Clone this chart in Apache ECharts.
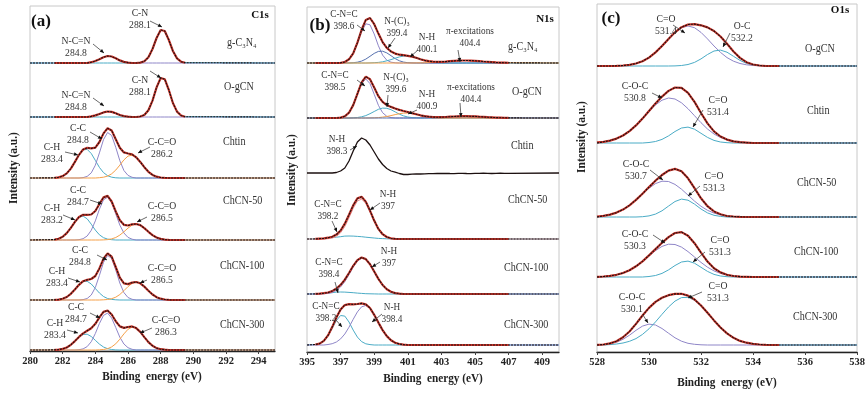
<!DOCTYPE html>
<html>
<head>
<meta charset="utf-8">
<script src="https://cdn.jsdelivr.net/npm/echarts@6/dist/echarts.min.js"></script>
<style>
  html, body { margin: 0; padding: 0; background: #fff; }
  #chart { width: 868px; height: 396px; }
</style>
</head>
<body>
<div id="chart"></div>
<script>
// binding energy sampling (eV) for each panel
const gridC = [281.5,281.75,282,282.25,282.5,282.75,283,283.25,283.5,283.75,284,284.25,284.5,284.75,285,285.25,285.5,285.75,286,286.25,286.5,286.75,287,287.25,287.5,287.75,288,288.25,288.5,288.75,289,289.25,289.5];
const gridN = [395.5,395.75,396,396.25,396.5,396.75,397,397.25,397.5,397.75,398,398.25,398.5,398.75,399,399.25,399.5,399.75,400,400.25,400.5,400.75,401,401.25,401.5,401.75,402,402.25,402.5,402.75,403,403.25,403.5,403.75,404,404.25,404.5,404.75,405,405.25,405.5,405.75,406,406.25,406.5,406.75,407];
const gridO = [528,528.25,528.5,528.75,529,529.25,529.5,529.75,530,530.25,530.5,530.75,531,531.25,531.5,531.75,532,532.25,532.5,532.75,533,533.25,533.5,533.75,534,534.25,534.5,534.75,535];

// vertical offset of each stacked spectrum (a.u.)
const offC1s = [288, 234, 173, 111, 51, 1];
const offN1s = [289, 234, 179, 113, 58, 7];
const offO1s = [286, 209, 135, 75, 7];

const samplesC1s = ['g-C₃N₄', 'O-gCN', 'Chtin', 'ChCN-50', 'ChCN-100', 'ChCN-300'];
const samplesN1s = ['g-C₃N₄', 'O-gCN', 'Chtin', 'ChCN-50', 'ChCN-100', 'ChCN-300'];
const samplesO1s = ['O-gCN', 'Chtin', 'ChCN-50', 'ChCN-100', 'ChCN-300'];

// ---- C1s fitted components ----
const aG_NCN = [0,0,0,0,0,0,0,0,0,0.8,2,3.8,5.8,7,6.5,4.7,2.6,1.1,0.4,0,0,0,0,0,0,0,0,0,0,0,0,0,0];
const aG_CN  = [0,0,0,0,0,0,0,0,0,0,0,0,0,0,0,0,0,0,0,0,0,0.4,1.7,5.7,14,25,33,32,23,12,4.6,1.3,0.3];
const aO_NCN = [0,0,0,0,0,0,0,0,0,0.6,1.6,3,4.6,5.5,5.1,3.7,2,0.9,0.3,0,0,0,0,0,0,0,0,0,0,0,0,0,0];
const aO_CN  = [0,0,0,0,0,0,0,0,0,0,0,0,0,0,0,0,0,0,0,0,0,0.5,2,6.7,16.4,29.6,39,37.8,27,14,5.4,1.5,0.3];
const aCh_CH  = [0.2,0.7,1.9,4.6,9.4,16.1,23.2,28.1,28.6,24.5,17.6,10.6,5.4,2.3,0.8,0.2,0,0,0,0,0,0,0,0,0,0,0,0,0,0,0,0,0];
const aCh_CC  = [0,0,0,0,0,0,0,0.4,1.6,5.1,12.8,25.1,38.4,45.5,42.5,30.7,17.3,7.5,2.6,0.7,0,0,0,0,0,0,0,0,0,0,0,0,0];
const aCh_CCO = [0,0,0,0,0,0,0,0,0,0,0,0.3,0.8,1.9,4.2,7.9,12.9,18.1,21.9,22.9,20.7,16.1,10.8,6.2,3.1,1.3,0.5,0.2,0,0,0,0,0];
const a50_CH  = [0.4,1.3,3.2,6.9,12.1,18.1,22.7,23.9,21.2,15.8,9.9,5.2,2.3,0.9,0.3,0,0,0,0,0,0,0,0,0,0,0,0,0,0,0,0,0,0];
const a50_CC  = [0,0,0,0,0,0,0.3,1.3,4,9.7,19.1,30.8,40.2,42.8,37.1,26.1,14.9,7,2.6,0.8,0,0,0,0,0,0,0,0,0,0,0,0,0];
const a50_CCO = [0,0,0,0,0,0,0,0,0,0,0,0,0.1,0.4,1.1,2.5,4.9,8.2,11.9,14.9,16,14.9,11.9,8.2,4.9,2.5,1.1,0.4,0.1,0,0,0,0];
const a100_CH  = [0.1,0.4,1.3,3,6.2,10.6,15.2,18.4,18.7,16,11.5,7,3.5,1.5,0.6,0.2,0,0,0,0,0,0,0,0,0,0,0,0,0,0,0,0,0];
const a100_CC  = [0,0,0,0,0,0,0,0.4,1.5,5,12.5,24.6,37.6,44.6,41.5,30,16.9,7.4,2.5,0.7,0,0,0,0,0,0,0,0,0,0,0,0,0];
const a100_CCO = [0,0,0,0,0,0,0,0,0,0,0,0,0.2,0.5,1.3,2.8,5.5,9.3,13.4,16.7,18,16.7,13.4,9.3,5.5,2.8,1.3,0.5,0.2,0,0,0,0];
const a300_CH  = [0.1,0.4,1.1,2.5,5.2,8.9,12.8,15.5,15.8,13.5,9.7,5.9,3,1.3,0.5,0.1,0,0,0,0,0,0,0,0,0,0,0,0,0,0,0,0,0];
const a300_CC  = [0,0,0,0,0,0,0.3,1.1,3.4,8.3,16.5,26.5,34.6,36.9,31.9,22.5,12.8,6,2.3,0.7,0,0,0,0,0,0,0,0,0,0,0,0,0];
const a300_CCO = [0,0,0,0,0,0,0,0,0,0,0,0.2,0.5,1.3,3.1,6.2,10.8,16.1,20.7,22.9,21.9,18.1,12.9,7.9,4.2,1.9,0.8,0.3,0,0,0,0,0];

// ---- N1s fitted components ----
const bG_CNC = [0,0,0,0,0,0,0.2,1,3.6,9.4,19.5,31.3,39.2,38.2,29,17.2,7.9,2.8,0.8,0.2,0,0,0,0,0,0,0,0,0,0,0,0,0,0,0,0,0,0,0,0,0,0,0,0,0,0,0];
const bG_NC3 = [0,0,0,0,0,0,0,0,0.1,0.3,0.8,1.9,3.9,6.7,9.6,11.6,11.8,10.1,7.3,4.4,2.2,0.9,0.3,0.1,0,0,0,0,0,0,0,0,0,0,0,0,0,0,0,0,0,0,0,0,0,0,0];
const bG_NH  = [0,0,0,0,0,0,0,0,0,0,0,0,0,0.1,0.3,0.6,1.2,2.2,3.4,4.8,6.1,6.9,6.9,6.3,5.1,3.7,2.4,1.4,0.7,0.3,0.1,0,0,0,0,0,0,0,0,0,0,0,0,0,0,0,0];
const bG_PI  = [0,0,0,0,0,0,0,0,0,0,0,0,0,0,0,0,0,0,0,0,0,0,0,0,0.1,0.1,0.2,0.4,0.6,0.8,1.1,1.4,1.8,2.1,2.3,2.5,2.5,2.4,2.2,1.9,1.5,1.2,0.9,0.6,0.4,0.3,0.2];
const bO_CNC = [0,0,0,0,0,0,0.4,1.7,5.3,12.7,23.7,34.4,39,34.4,23.7,12.7,5.3,1.7,0.4,0,0,0,0,0,0,0,0,0,0,0,0,0,0,0,0,0,0,0,0,0,0,0,0,0,0,0,0];
const bO_NC3 = [0,0,0,0,0,0,0,0,0,0.2,0.5,1.2,2.4,4.3,6.5,8.7,9.9,9.7,8.3,6.1,3.8,2.1,1,0.4,0.1,0,0,0,0,0,0,0,0,0,0,0,0,0,0,0,0,0,0,0,0,0,0];
const bO_NH  = [0,0,0,0,0,0,0,0,0,0,0,0,0,0.1,0.2,0.4,0.9,1.5,2.4,3.4,4.3,4.9,5,4.5,3.6,2.6,1.7,1,0.5,0.2,0.1,0,0,0,0,0,0,0,0,0,0,0,0,0,0,0,0];
const bO_PI  = [0,0,0,0,0,0,0,0,0,0,0,0,0,0,0,0,0,0,0,0,0,0,0,0,0.1,0.1,0.2,0.3,0.4,0.6,0.8,1,1.3,1.5,1.7,1.8,1.8,1.7,1.6,1.3,1.1,0.8,0.6,0.4,0.3,0.2,0.1];
const bCh_raw = [0,0,0,0,0,0.5,2,5,12,22,31,35,33,28,21,14,8.5,4.5,2,0.8,-0.5,-1.5,-1.5,-1.2,-1,-1,-0.8,-0.6,-0.6,-0.5,-0.5,-0.3,-0.5,-0.6,-0.4,-0.3,-0.5,-0.6,-0.4,-0.3,-0.2,-0.4,-0.5,-0.3,-0.2,-0.3,-0.4];
const b50_NH  = [0,0,0,0.3,0.9,2.6,6.2,12.4,21.2,30.7,38,39.9,35.6,27,17.4,9.5,4.4,1.8,0.6,0.2,0,0,0,0,0,0,0,0,0,0,0,0,0,0,0,0,0,0,0,0,0,0,0,0,0,0,0];
const b50_CNC = [0.1,0.4,0.6,1,1.4,1.8,2.3,2.9,3,2.9,2.6,2.3,1.8,1.4,1,0.6,0.4,0.2,0.1,0,0,0,0,0,0,0,0,0,0,0,0,0,0,0,0,0,0,0,0,0,0,0,0,0,0,0,0];
const b100_NH  = [0,0,0.2,0.6,1.6,3.6,7.1,12.4,19.4,26.9,33,35.9,34.6,29.6,22.4,15.1,9,4.8,2.2,0.9,0.3,0,0,0,0,0,0,0,0,0,0,0,0,0,0,0,0,0,0,0,0,0,0,0,0,0,0];
const b100_CNC = [0.1,0.3,0.6,0.9,1.3,1.9,2,1.9,1.6,1.3,0.9,0.6,0.3,0.2,0.1,0,0,0,0,0,0,0,0,0,0,0,0,0,0,0,0,0,0,0,0,0,0,0,0,0,0,0,0,0,0,0,0];
const b300_CNC = [0.5,1.4,4.1,9.1,16.6,24.5,29.5,28.9,23,14.9,7.9,3.4,1.2,0.4,0,0,0,0,0,0,0,0,0,0,0,0,0,0,0,0,0,0,0,0,0,0,0,0,0,0,0,0,0,0,0,0,0];
const b300_NH  = [0,0,0,0.5,1.3,3,6.1,11,17.8,25.7,33.1,38.2,39.5,36.6,30.2,22.4,14.9,8.9,4.7,2.2,1,0.4,0,0,0,0,0,0,0,0,0,0,0,0,0,0,0,0,0,0,0,0,0,0,0,0,0];

// ---- O1s fitted components ----
const cO_CO  = [0,0,0,0.2,0.5,1.2,2.5,4.8,8.4,13.6,20,27.1,33.6,38.3,40,38.3,33.6,27.1,20,13.6,8.4,4.8,2.5,1.2,0.5,0.2,0,0,0];
const cO_OC  = [0,0,0,0,0,0,0,0,0,0,0,0,0.1,0.5,1.5,3.6,7.1,11.5,15,15.9,13.8,9.7,5.6,2.6,1,0.3,0,0,0];
const cCh_COC = [0.6,1.2,2.4,4.4,7.5,11.9,17.6,24.4,31.5,38.1,42.8,45,44,40.2,34.3,27.3,20.3,14,9,5.5,3.1,1.6,0.8,0.4,0,0,0,0,0];
const cCh_CO  = [0,0,0,0,0,0,0,0,0.5,1.5,3.6,7.1,11.5,15,15.9,13.8,9.7,5.6,2.6,1,0.3,0,0,0,0,0,0,0,0];
const c50_COC = [0.5,1.2,2.4,4.4,7.4,11.7,17.1,23,28.8,33.4,35.8,35.5,32.6,27.8,21.9,15.9,10.7,6.7,3.9,2.1,1,0.5,0.2,0,0,0,0,0,0];
const c50_CO  = [0,0,0,0,0,0,0,0.3,1.1,2.9,6.2,10.9,15.5,17.9,16.8,12.9,8,4.1,1.7,0.6,0,0,0,0,0,0,0,0,0];
const c100_COC = [0.2,0.5,1.1,2.2,4,6.8,10.7,15.6,21.1,26.4,30.6,32.8,32.5,29.9,25.4,20,14.6,9.8,6.1,3.6,1.9,1,0.4,0.2,0,0,0,0,0];
const c100_CO  = [0,0,0,0,0,0,0,0,0.5,1.5,3.6,7.1,11.5,15,15.9,13.8,9.7,5.6,2.6,1,0.3,0,0,0,0,0,0,0,0];
const c300_COC = [0.1,0.5,1.2,2.8,5.7,9.8,14.7,18.9,20.9,20,16.5,11.8,7.2,3.8,1.7,0.7,0.2,0,0,0,0,0,0,0,0,0,0,0,0];
const c300_CO  = [0,0,0.4,1,2,3.7,6.4,10.6,16.2,23.1,30.7,38,43.9,47.4,47.7,44.8,39.3,32.2,24.6,17.5,11.6,7.2,4.1,2.3,1.2,0.5,0.2,0,0];

const CYAN = '#4bacc6', PURPLE = '#8f86c8', ORANGE = '#f5a048', BLUE = '#5670ae', PINK = '#e39a9a';
const FIT = '#c8352b', RAW = '#1c1010';
const serif = 'Liberation Serif';

// panel setup
const panels = [
  { range: [280, 295], energies: gridC, box: { left: 30, top: 6, width: 245, height: 345 },
    spectra: [
      { off: offC1s[0], comps: [[aG_NCN, PURPLE], [aG_CN, CYAN]] },
      { off: offC1s[1], comps: [[aO_NCN, PURPLE], [aO_CN, CYAN]] },
      { off: offC1s[2], comps: [[aCh_CH, CYAN], [aCh_CC, PURPLE], [aCh_CCO, ORANGE]] },
      { off: offC1s[3], comps: [[a50_CH, CYAN], [a50_CC, PURPLE], [a50_CCO, ORANGE]] },
      { off: offC1s[4], comps: [[a100_CH, CYAN], [a100_CC, PURPLE], [a100_CCO, ORANGE]] },
      { off: offC1s[5], comps: [[a300_CH, CYAN], [a300_CC, PURPLE], [a300_CCO, ORANGE]] }
    ] },
  { range: [395, 410], energies: gridN, box: { left: 307, top: 7, width: 252, height: 345 },
    spectra: [
      { off: offN1s[0], comps: [[bG_CNC, PURPLE], [bG_NC3, BLUE], [bG_NH, CYAN], [bG_PI, ORANGE]] },
      { off: offN1s[1], comps: [[bO_CNC, PURPLE], [bO_NC3, CYAN], [bO_NH, ORANGE], [bO_PI, BLUE]] },
      { off: offN1s[2], comps: [], raw: bCh_raw },
      { off: offN1s[3], comps: [[b50_CNC, CYAN], [b50_NH, PINK]] },
      { off: offN1s[4], comps: [[b100_CNC, CYAN], [b100_NH, PURPLE]] },
      { off: offN1s[5], comps: [[b300_CNC, CYAN], [b300_NH, PURPLE]] }
    ] },
  { range: [528, 538], energies: gridO, box: { left: 597, top: 4, width: 260, height: 348 },
    spectra: [
      { off: offO1s[0], comps: [[cO_CO, PURPLE], [cO_OC, CYAN]] },
      { off: offO1s[1], comps: [[cCh_COC, PURPLE], [cCh_CO, CYAN]] },
      { off: offO1s[2], comps: [[c50_COC, PURPLE], [c50_CO, CYAN]] },
      { off: offO1s[3], comps: [[c100_COC, PURPLE], [c100_CO, CYAN]] },
      { off: offO1s[4], comps: [[c300_COC, PURPLE], [c300_CO, CYAN]] }
    ] }
];

// annotation texts with leader arrows: [text, cx, cy, x1, y1, x2, y2] (pixels)
const notesC1s = [
  ['C-N\n288.1', 140, 19, 150, 21, 162, 27],
  ['N-C=N\n284.8', 76, 47, 93, 44, 104, 53],
  ['C-N\n288.1', 140, 86, 150, 71, 161, 78],
  ['N-C=N\n284.8', 76, 101, 93, 98, 104, 106],
  ['C-C\n284.8', 78, 134, 90, 132, 102, 139],
  ['C-H\n283.4', 52, 153, 65, 152, 78, 155],
  ['C-C=O\n286.2', 162, 148, 150, 147, 138, 153],
  ['C-C\n284.7', 78, 196, 90, 200, 102, 204],
  ['C-H\n283.2', 52, 214, 63, 215, 75, 220],
  ['C-C=O\n286.5', 162, 212, 147, 217, 137, 222],
  ['C-C\n284.8', 80, 256, 97, 255, 107, 260],
  ['C-H\n283.4', 57, 277, 68, 278, 80, 282],
  ['C-C=O\n286.5', 162, 274, 147, 280, 140, 283],
  ['C-C\n284.7', 76, 313, 90, 313, 100, 318],
  ['C-H\n283.4', 55, 329, 67, 330, 78, 333],
  ['C-C=O\n286.3', 166, 326, 152, 328, 140, 333]
];
const notesN1s = [
  ['C-N=C\n398.6', 344, 20, 357, 25, 365, 31],
  ['N-(C)₃\n399.4', 397, 27, 395, 38, 388, 48],
  ['N-H\n400.1', 427, 43, 418, 50, 410, 57],
  ['π-excitations\n404.4', 470, 37, 458, 50, 460, 62],
  ['C-N=C\n398.5', 335, 81, 357, 80, 365, 86],
  ['N-(C)₃\n399.6', 396, 83, 388, 95, 387, 107],
  ['N-H\n400.9', 427, 100, 417, 110, 408, 114],
  ['π-excitations\n404.4', 471, 93, 460, 103, 461, 117],
  ['N-H\n398.3', 337, 145, 350, 150, 357, 146],
  ['C-N=C\n398.2', 328, 210, 332, 221, 337, 232],
  ['N-H\n397', 388, 200, 380, 203, 370, 210],
  ['C-N=C\n398.4', 329, 268, 335, 282, 338, 293],
  ['N-H\n397', 389, 257, 380, 262, 372, 267],
  ['C-N=C\n398.2', 326, 312, 336, 320, 342, 327],
  ['N-H\n398.4', 392, 313, 382, 314, 372, 322]
];
const notesO1s = [
  ['C=O\n531.4', 666, 25, 673, 25, 685, 33],
  ['O-C\n532.2', 742, 32, 730, 33, 723, 47],
  ['C-O-C\n530.8', 635, 92, 652, 93, 662, 98],
  ['C=O\n531.4', 718, 106, 703, 110, 693, 127],
  ['C-O-C\n530.7', 636, 170, 650, 170, 663, 180],
  ['C=O\n531.3', 714, 182, 700, 186, 688, 196],
  ['C-O-C\n530.3', 635, 240, 653, 235, 665, 243],
  ['C=O\n531.3', 720, 246, 705, 252, 693, 262],
  ['C-O-C\n530.1', 632, 303, 643, 315, 648, 323],
  ['C=O\n531.3', 718, 292, 702, 292, 688, 298]
];
// sample name anchors (left x, middle y)
const nameAnchors = [
  [[227, 43], [224, 87], [223, 142], [223, 201], [220, 266], [220, 325]],
  [[508, 47], [512, 92], [511, 146], [508, 200], [504, 268], [504, 325]],
  [[805, 49], [807, 111], [797, 183], [794, 252], [793, 317]]
];

// sanity check on the array lengths
panels.forEach((p, pi) => p.spectra.forEach((s, si) => {
  const arrs = s.raw ? [s.raw] : s.comps.map(c => c[0]);
  arrs.forEach((a, k) => {
    if (a.length !== p.energies.length) throw new Error('length ' + pi + '/' + si + '/' + k + ': ' + a.length);
  });
}));

// points of one curve, optionally extended flat to the axis ends
function pts(energies, vals, off, ends) {
  const out = energies.map((x, i) => [x, Math.round((vals[i] + off) * 100) / 100]);
  if (ends) {
    out.unshift([ends[0], off]);
    out.push([ends[1], off]);
  }
  return out;
}
function lineSeries(pi, data, color, width, type, z) {
  return {
    type: 'line', xAxisIndex: pi, yAxisIndex: pi, data: data,
    symbol: 'none', silent: true, animation: false, z: z,
    lineStyle: { color: color, width: width, type: type || 'solid' }
  };
}

const series = [];
panels.forEach((p, pi) => {
  p.spectra.forEach(s => {
    s.comps.forEach(([vals, color]) => {
      series.push(lineSeries(pi, pts(p.energies, vals, s.off, p.range), color, 1, 'solid', 2));
    });
    if (s.raw) {
      series.push(lineSeries(pi, pts(p.energies, s.raw, s.off, p.range), RAW, 1.3, 'solid', 4));
    } else {
      const env = p.energies.map((_, i) => s.comps.reduce((t, c) => t + c[0][i], 0));
      series.push(lineSeries(pi, pts(p.energies, env, s.off, null), FIT, 2.2, 'solid', 3));
      series.push(lineSeries(pi, pts(p.energies, env, s.off, p.range), RAW, 1.1, [2, 1], 4));
    }
  });
});

// text + arrows
const graphic = [];
function text(x, y, str, style, extra) {
  graphic.push(Object.assign({
    type: 'text', x: x, y: y, silent: true, z: 10,
    style: Object.assign({ text: str, fontFamily: serif, fontSize: 11, fill: '#333',
      align: 'center', verticalAlign: 'middle', lineHeight: 12 }, style)
  }, extra || {}));
}
function arrow(x1, y1, x2, y2) {
  graphic.push({ type: 'line', silent: true, z: 10,
    shape: { x1: x1, y1: y1, x2: x2, y2: y2 }, style: { stroke: '#444', lineWidth: 0.8 } });
  const dx = x2 - x1, dy = y2 - y1, L = Math.hypot(dx, dy) || 1;
  const ux = dx / L, uy = dy / L;
  const bx = x2 - ux * 4, by = y2 - uy * 4;
  graphic.push({ type: 'polygon', silent: true, z: 10,
    shape: { points: [[x2, y2], [bx - uy * 1.8, by + ux * 1.8], [bx + uy * 1.8, by - ux * 1.8]] },
    style: { fill: '#111' } });
}
[notesC1s, notesN1s, notesO1s].forEach((notes, pi) => {
  notes.forEach(n => {
    text(n[1], n[2], n[0], { fontSize: pi === 1 ? 10.5 : 11 }, { scaleX: 0.88 });
    arrow(n[3], n[4], n[5], n[6]);
  });
});
[samplesC1s, samplesN1s, samplesO1s].forEach((names, pi) => {
  names.forEach((nm, i) => {
    text(nameAnchors[pi][i][0], nameAnchors[pi][i][1], nm, { align: 'left', fontSize: 11.5 }, { scaleX: 0.88 });
  });
});
// panel letters and core level tags
text(41, 22, '(a)', { fontSize: 17, fontWeight: 'bold', fill: '#111' });
text(320, 26, '(b)', { fontSize: 17, fontWeight: 'bold', fill: '#111' });
text(611, 19, '(c)', { fontSize: 17, fontWeight: 'bold', fill: '#111' });
text(260, 15, 'C1s', { fontSize: 11, fontWeight: 'bold', fill: '#111' });
text(545, 19, 'N1s', { fontSize: 11, fontWeight: 'bold', fill: '#111' });
text(840, 10, 'O1s', { fontSize: 11, fontWeight: 'bold', fill: '#111' });
// axis titles
[[152, 377], [433, 379], [727, 383]].forEach(p => {
  text(p[0], p[1], 'Binding  energy (eV)', { fontSize: 12.5, fontWeight: 'bold', fill: '#222' }, { scaleX: 0.9 });
});
[[14, 168], [292, 170], [582, 137]].forEach(p => {
  text(p[0], p[1], 'Intensity (a.u.)', { fontSize: 11.5, fontWeight: 'bold', fill: '#222' }, { rotation: Math.PI / 2 });
});

const chart = echarts.init(document.getElementById('chart'));
chart.setOption({
  animation: false,
  backgroundColor: '#fff',
  grid: panels.map(p => Object.assign({ show: true, borderColor: '#c8c8c8', borderWidth: 1 }, p.box)),
  xAxis: panels.map((p, pi) => ({
    gridIndex: pi, type: 'value', min: p.range[0], max: p.range[1], interval: 2,
    axisLine: { lineStyle: { color: '#222', width: 1.3 } },
    axisTick: { show: true, length: 3, lineStyle: { color: '#444' } },
    axisLabel: { showMaxLabel: pi === 2, fontFamily: serif, fontWeight: 'bold', fontSize: 10.5, color: '#222', margin: 5 },
    splitLine: { show: false }
  })),
  yAxis: panels.map((p, pi) => ({
    gridIndex: pi, type: 'value', min: 0, max: p.box.height, show: false
  })),
  series: series,
  graphic: graphic
});
</script>
</body>
</html>
